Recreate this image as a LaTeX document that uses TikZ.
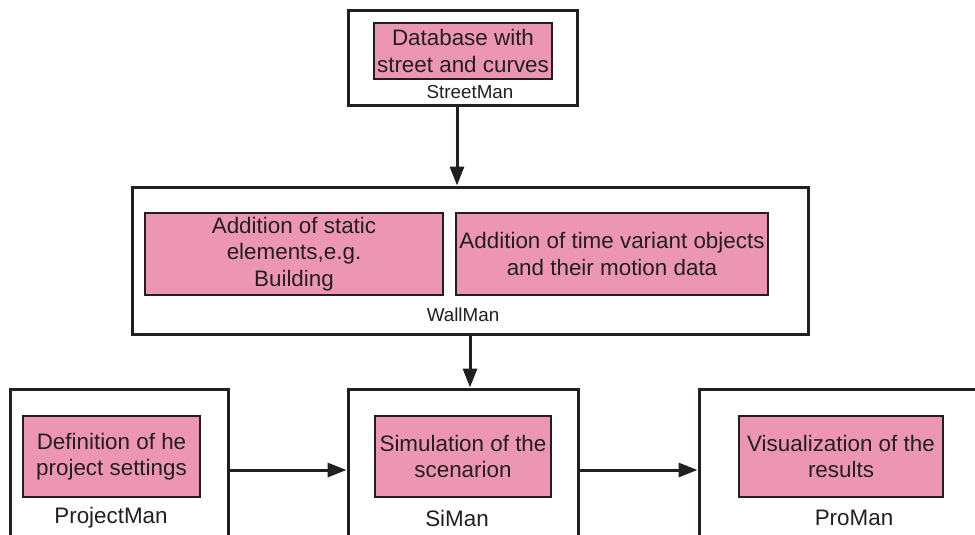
\documentclass[tikz,border=0pt]{standalone}
\usepackage{fontspec}
\setmainfont{Liberation Sans}
\usetikzlibrary{arrows.meta}
\definecolor{pinkfill}{RGB}{236,150,180}
\definecolor{inkc}{RGB}{35,31,32}
\tikzset{
  outerbox/.style={draw=inkc, line width=3pt, fill=white, inner sep=0pt},
  pinkbox/.style={draw=inkc, line width=1.4pt, fill=pinkfill, inner sep=0pt, align=center,
    font=\fontsize{22.4}{26.5}\selectfont, text=inkc},
  biglabel/.style={font=\fontsize{22.4}{26.5}\selectfont, text=inkc, inner sep=0pt},
  smalllabel/.style={font=\fontsize{18.8}{22}\selectfont, text=inkc, inner sep=0pt},
  arr/.style={draw=inkc, line width=3pt, -{Triangle[length=19pt,width=14pt]}}
}
\begin{document}
\begin{tikzpicture}[x=1pt,y=-1pt]
\useasboundingbox (0,0) rectangle (975,535);
\begin{scope}
\clip (0,0) rectangle (975,535);
% outer boxes
\node[outerbox, minimum width=229pt, minimum height=94pt] (street) at (462.5,58) {};
\node[outerbox, minimum width=676pt, minimum height=147pt] (wall) at (470,260.5) {};
\node[outerbox, minimum width=218pt, minimum height=180pt] (project) at (119,479) {};
\node[outerbox, minimum width=230pt, minimum height=180pt] (siman) at (463,479) {};
\node[outerbox, minimum width=301pt, minimum height=180pt] (proman) at (849.5,479) {};
% pink boxes
\node[pinkbox, minimum width=178pt, minimum height=56pt] (db) at (463,51) {Database with\\street and curves};
\node[pinkbox, minimum width=298pt, minimum height=82pt] (static) at (294,254) {Addition of static\\elements,e.g.\\Building};
\node[pinkbox, minimum width=312pt, minimum height=82pt] (timevar) at (612,254) {Addition of time variant objects\\and their motion data};
\node[pinkbox, minimum width=177pt, minimum height=81pt] (def) at (111.5,456.5) {Definition of he\\project settings};
\node[pinkbox, minimum width=176pt, minimum height=81pt] (sim) at (463,456.5) {Simulation of the\\scenarion};
\node[pinkbox, minimum width=204pt, minimum height=81pt] (vis) at (841,456.5) {Visualization of the\\results};
% labels
\node[smalllabel] (streetlbl) at (470,92) {StreetMan};
\node[smalllabel] (walllbl) at (463,315) {WallMan};
\node[biglabel] (projlbl) at (111,518) {ProjectMan};
\node[biglabel] (silbl) at (457,518) {SiMan};
\node[biglabel] (prolbl) at (854,518) {ProMan};
% arrows
\coordinate (rowy) at (0,470);
\draw[arr] ([xshift=-5.5pt]street.south) -- ([xshift=-5.5pt]street.south |- wall.north);
\draw[arr] ([xshift=7pt]siman.north |- wall.south) -- ([xshift=7pt]siman.north);
\draw[arr] (project.east |- rowy) -- (siman.west |- rowy);
\draw[arr] (siman.east |- rowy) -- (proman.west |- rowy);
\end{scope}
\end{tikzpicture}
\end{document}
